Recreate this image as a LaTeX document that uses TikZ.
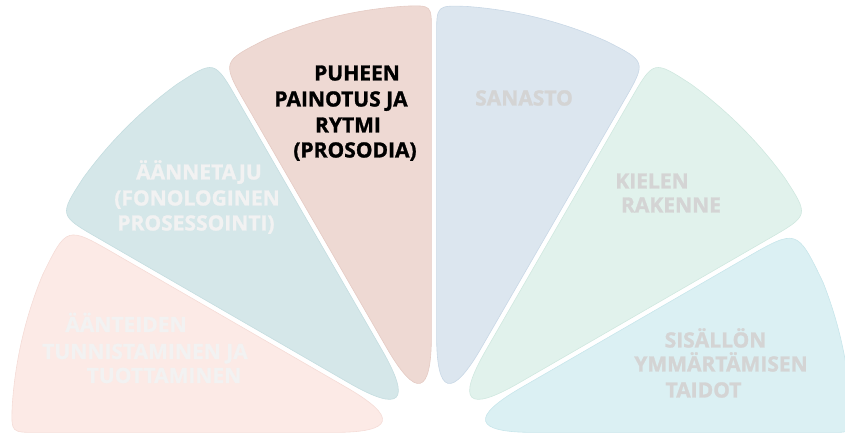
\documentclass[tikz,border=0pt]{standalone}
\usepackage{fontspec}
\setmainfont{Open Sans}[BoldFont={Open Sans Bold}, BoldFeatures={FakeBold=1.3}]
\usetikzlibrary{calc}
\definecolor{pinkF}{HTML}{FCEAE6}\definecolor{pinkD}{HTML}{F5DCD7}
\definecolor{tealF}{HTML}{D5E7E9}\definecolor{tealD}{HTML}{C5DDE0}
\definecolor{salmF}{HTML}{EED9D3}\definecolor{salmD}{HTML}{E5CBC4}
\definecolor{blueF}{HTML}{DCE6EF}\definecolor{blueD}{HTML}{C9D8E6}
\definecolor{grenF}{HTML}{E1F2EC}\definecolor{grenD}{HTML}{D0E8E0}
\definecolor{cyanF}{HTML}{DBF0F3}\definecolor{cyanD}{HTML}{C8E6EB}
\definecolor{txtW}{HTML}{F2F2F2}
\definecolor{txtG}{HTML}{D4D4D4}
\newcommand\fanpetal[7]{%
  \pgfmathsetmacro\pbis{(#3+#4)/2}%
  \pgfmathsetmacro\pda{#5*57.2958/#7}%
  \pgfmathsetmacro\pdb{#6*57.2958/#7}%
  \pgfmathsetmacro\pra{#7-#5}%
  \pgfmathsetmacro\prb{#7-#6}%
  \pgfmathsetmacro\psa{#3+\pda}%
  \pgfmathsetmacro\psb{#4-\pdb}%
  \coordinate (#1) at ($(O)+(\pbis:10pt)$);
  \path[#2] ($(#1)+(#3:90pt)$) -- ($(#1)+(#3:\pra pt)$)
    .. controls ($(#1)+(#3:#7pt)$) .. ($(#1)+(\psa:#7pt)$)
    arc[start angle=\psa, end angle=\psb, radius=#7pt]
    .. controls ($(#1)+(#4:#7pt)$) .. ($(#1)+(#4:\prb pt)$)
    -- ($(#1)+(#4:90pt)$)
    .. controls ($(#1)+(#4:30pt)$) and ($(#1)+(#3:30pt)$) .. cycle;
}
\tikzset{
  petal/.style 2 args={fill=#1, draw=#2, line width=0.6pt},
  lbl/.style={font=\bfseries\fontsize{21}{26}\selectfont, anchor=base, inner sep=0pt},
  wlbl/.style={lbl, text=txtW},
  glbl/.style={lbl, text=txtG},
  klbl/.style={lbl, text=black}
}
\begin{document}
\begin{tikzpicture}
\useasboundingbox (0pt,0pt) rectangle (845pt,435pt);
\clip (0pt,0pt) rectangle (845pt,435pt);
\coordinate (O) at (434pt,0pt);
\fanpetal{pinkv}{petal={pinkF}{pinkD}}{150}{180}{55}{25}{413}
\fanpetal{tealv}{petal={tealF}{tealD}}{120}{150}{45}{45}{425}
\fanpetal{salmv}{petal={salmF}{salmD}}{90}{120}{25}{50}{420}
\fanpetal{bluev}{petal={blueF}{blueD}}{60}{90}{45}{30}{420}
\fanpetal{grenv}{petal={grenF}{grenD}}{30}{60}{45}{45}{425}
\fanpetal{cyanv}{petal={cyanF}{cyanD}}{0}{30}{20}{60}{408}
% pink
\node[wlbl] (pk1) at (126pt,103pt) {ÄÄNTEIDEN};
\node[wlbl] (pk2) at (145pt,76pt) {TUNNISTAMINEN JA};
\node[wlbl] (pk3) at (164pt,52pt) {TUOTTAMINEN};
% teal
\node[wlbl] (tl1) at (199pt,255.5pt) {ÄÄNNETAJU};
\node[wlbl] (tl2) at (197pt,229.5pt) {(FONOLOGINEN};
\node[wlbl] (tl3) at (196pt,204.5pt) {PROSESSOINTI)};
% salmon
\node[klbl] (sl1) at (357pt,354.5pt) {PUHEEN};
\node[klbl] (sl2) at (341pt,328.5pt) {PAINOTUS JA};
\node[klbl] (sl3) at (348pt,302.5pt) {RYTMI};
\node[klbl] (sl4) at (355pt,277.5pt) {(PROSODIA)};
% blue
\node[glbl] (bl1) at (524pt,329.5pt) {SANASTO};
% green
\node[glbl] (gr1) at (652pt,246.5pt) {KIELEN};
\node[glbl] (gr2) at (671pt,222.5pt) {RAKENNE};
% cyan
\node[glbl] (cy1) at (715.5pt,87.5pt) {SISÄLLÖN};
\node[glbl] (cy2) at (721pt,63.5pt) {YMMÄRTÄMISEN};
\node[glbl] (cy3) at (703.5pt,37.5pt) {TAIDOT};
\end{tikzpicture}
\end{document}
